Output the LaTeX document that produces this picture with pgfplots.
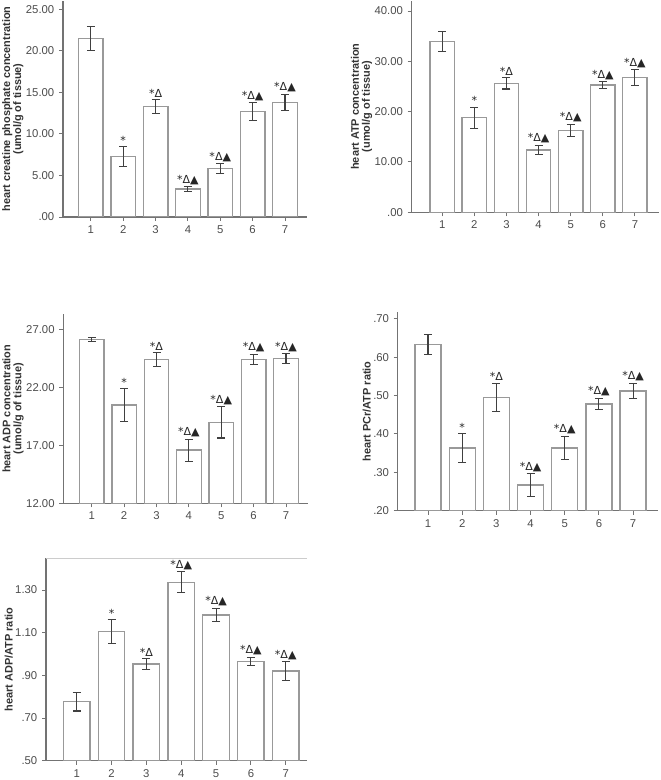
\documentclass[border=0pt]{standalone}
\usepackage{fontspec}
\setmainfont{Liberation Sans}
\newfontfamily\dejavu{DejaVu Sans}
\usepackage{pgfplots}
\pgfplotsset{compat=1.18}
\pgfplotsset{
  panel/.style={
    scale only axis, anchor=south west,
    axis x line=bottom, axis y line=left,
    axis line style={-, draw=black!55, line width=0.8pt},
    tick align=outside, major tick length=3pt,
    tick style={draw=black!55, line width=0.7pt},
    ticklabel style={font=\fontsize{8.5}{9}\selectfont, text=black!70},
    xtick={1,...,7}, xticklabels={1,2,3,4,5,6,7},
    ylabel style={font=\bfseries\fontsize{8.2}{8.2}\selectfont, align=center, text=black!80},
    ylabel shift=-5pt,
  },
  bars/.style={ybar, bar shift=0pt, bar width=0.76, fill=white, draw=black!40, line width=1pt,
    error bars/.cd, y dir=both, y explicit,
    error bar style={draw=black!75, line width=0.8pt},
    error mark options={rotate=90, mark size=3pt, draw=black!75, line width=0.8pt}},
  notes/.style={draw=none, mark=none, nodes near coords, point meta=explicit symbolic,
    nodes near coords style={anchor=south, inner sep=0.5pt, yshift=1pt, font=\dejavu\fontsize{8.3}{9}\selectfont, text=black!85}},
}
\begin{document}
\begin{tikzpicture}
\path[use as bounding box] (0,0) rectangle (495pt,585pt);
% Panel 1
\begin{axis}[panel, at={(47.25pt,422.25pt)}, width=183pt, height=162pt,
  xmin=0.14, xmax=7.68, ymin=0, ymax=26,
  ytick={0,5,10,15,20,25}, yticklabels={.00,5.00,10.00,15.00,20.00,25.00},
  ylabel={heart creatine phosphate concentration\\(umol/g of tissue)}]
\addplot[bars] coordinates {(1,21.5) +- (0,1.45) (2,7.27) +- (0,1.2) (3,13.3) +- (0,0.8) (4,3.35) +- (0,0.27) (5,5.83) +- (0,0.56) (6,12.7) +- (0,1.05) (7,13.8) +- (0,1.0)};
\addplot[notes] coordinates {(2,8.47) [*] (3,14.1) [*Δ] (4,3.62) [*Δ▲] (5,6.39) [*Δ▲] (6,13.75) [*Δ▲] (7,14.8) [*Δ▲]};
\end{axis}
% Panel 2
\begin{axis}[panel, at={(308.78pt,425.78pt)}, width=185.25pt, height=158.5pt,
  xmin=0.05, xmax=7.74, ymin=0, ymax=42,
  ytick={0,10,20,30,40}, yticklabels={.00,10.00,20.00,30.00,40.00},
  ylabel={heart ATP concentration\\(umol/g of tissue)}]
\addplot[bars] coordinates {(1,33.9) +- (0,2.0) (2,18.8) +- (0,2.1) (3,25.65) +- (0,1.15) (4,12.4) +- (0,0.85) (5,16.25) +- (0,1.25) (6,25.3) +- (0,0.65) (7,26.75) +- (0,1.55)};
\addplot[notes] coordinates {(2,20.9) [*] (3,26.8) [*Δ] (4,13.25) [*Δ▲] (5,17.5) [*Δ▲] (6,25.95) [*Δ▲] (7,28.3) [*Δ▲]};
\end{axis}
% Panel 3
\begin{axis}[panel, at={(47.48pt,207.5pt)}, width=183.5pt, height=141.75pt,
  xmin=0.12, xmax=7.68, ymin=12, ymax=28.35,
  ytick={12,17,22,27}, yticklabels={12.00,17.00,22.00,27.00},
  ylabel={heart ADP concentration\\(umol/g of tissue)}]
\addplot[bars] coordinates {(1,26.2) +- (0,0.18) (2,20.5) +- (0,1.45) (3,24.45) +- (0,0.6) (4,16.6) +- (0,0.95) (5,19.0) +- (0,1.35) (6,24.45) +- (0,0.45) (7,24.5) +- (0,0.43)};
\addplot[notes] coordinates {(2,21.95) [*] (3,25.05) [*Δ] (4,17.55) [*Δ▲] (5,20.35) [*Δ▲] (6,24.9) [*Δ▲] (7,24.93) [*Δ▲]};
\end{axis}
% Panel 4
\begin{axis}[panel, at={(298.3pt,202pt)}, width=195pt, height=148.8pt,
  xmin=0.115, xmax=7.72, ymin=0.2, ymax=0.717,
  ytick={0.2,0.3,0.4,0.5,0.6,0.7}, yticklabels={.20,.30,.40,.50,.60,.70},
  ylabel={heart PCr/ATP ratio}]
\addplot[bars] coordinates {(1,0.633) +- (0,0.026) (2,0.363) +- (0,0.037) (3,0.495) +- (0,0.037) (4,0.267) +- (0,0.029) (5,0.363) +- (0,0.03) (6,0.478) +- (0,0.014) (7,0.512) +- (0,0.02)};
\addplot[notes] coordinates {(2,0.40) [*] (3,0.532) [*Δ] (4,0.296) [*Δ▲] (5,0.393) [*Δ▲] (6,0.492) [*Δ▲] (7,0.532) [*Δ▲]};
\end{axis}
% Panel 5
\begin{axis}[panel, at={(34.5pt,14.5pt)}, width=195.5pt, height=151.8pt,
  xmin=0.12, xmax=7.6, ymin=0.5, ymax=1.449,
  ytick={0.5,0.7,0.9,1.1,1.3}, yticklabels={.50,.70,.90,1.10,1.30},
  ylabel={heart ADP/ATP ratio},
  after end axis/.code={\draw[black!20, line width=0.6pt] (rel axis cs:0,1) -- (rel axis cs:1,1);}]
\addplot[bars] coordinates {(1,0.776) +- (0,0.043) (2,1.105) +- (0,0.055) (3,0.953) +- (0,0.025) (4,1.336) +- (0,0.049) (5,1.183) +- (0,0.032) (6,0.965) +- (0,0.02) (7,0.92) +- (0,0.043)};
\addplot[notes] coordinates {(2,1.16) [*] (3,0.978) [*Δ] (4,1.386) [*Δ▲] (5,1.216) [*Δ▲] (6,0.986) [*Δ▲] (7,0.964) [*Δ▲]};
\end{axis}
\end{tikzpicture}
\end{document}
